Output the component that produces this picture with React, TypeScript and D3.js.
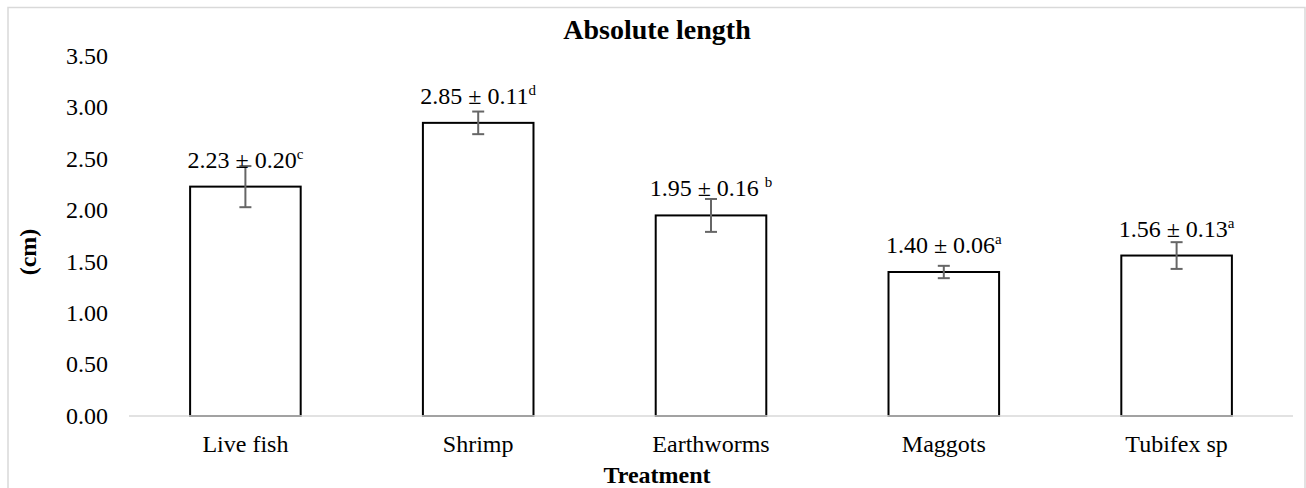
import React from "react";
import * as d3 from "d3";

const categories = ["Live fish", "Shrimp", "Earthworms", "Maggots", "Tubifex sp"];
const means = [2.23, 2.85, 1.95, 1.4, 1.56];
const errors = [0.2, 0.11, 0.16, 0.06, 0.13];
const letters = ["c", "d", "b", "a", "a"];
const letterSpaced = [false, false, true, false, false];
const yTicks = [0, 0.5, 1, 1.5, 2, 2.5, 3, 3.5];

const W = 1306;
const H = 488;
const FONT = "'Liberation Serif', 'Times New Roman', serif";

export default function App() {
  const x = d3
    .scaleBand<string>()
    .domain(categories)
    .range([129, 1293])
    .paddingInner(0.525)
    .paddingOuter(0.2625);
  const y = d3.scaleLinear().domain([0, 3.5]).range([416, 56]);
  const bw = x.bandwidth();

  return (
    <div style={{ position: "absolute", left: 0, top: 0, width: W, height: H, background: "#fff" }}>
      <svg width={W} height={H} style={{ display: "block" }} fontFamily={FONT}>
        <rect x={0} y={0} width={W} height={H} fill="#fff" />
        <rect x={8} y={7.5} width={1297} height={500} fill="none" stroke="#d9d9d9" strokeWidth={1.5} />
        <text x={657} y={39} textAnchor="middle" fontSize={28} fontWeight="bold" fill="#000">
          Absolute length
        </text>
        {yTicks.map((t) => (
          <text key={t} x={108} y={y(t)} dy="0.33em" textAnchor="end" fontSize={24} fill="#000">
            {d3.format(".2f")(t)}
          </text>
        ))}
        {categories.map((c, i) => {
          const x0 = x(c)!;
          const cx = x0 + bw / 2;
          return (
            <g key={c}>
              <rect
                x={x0}
                y={y(means[i])}
                width={bw}
                height={y(0) - y(means[i])}
                fill="#fff"
                stroke="#000"
                strokeWidth={2}
              />
              <g stroke="#666" strokeWidth={2}>
                <line x1={cx} x2={cx} y1={y(means[i] + errors[i])} y2={y(means[i] - errors[i])} />
                <line x1={cx - 6} x2={cx + 6} y1={y(means[i] + errors[i])} y2={y(means[i] + errors[i])} />
                <line x1={cx - 6} x2={cx + 6} y1={y(means[i] - errors[i])} y2={y(means[i] - errors[i])} />
              </g>
              <text x={cx} y={y(means[i]) - 19} textAnchor="middle" fontSize={24} fill="#000">
                {`${d3.format(".2f")(means[i])} ± ${d3.format(".2f")(errors[i])}${letterSpaced[i] ? " " : ""}`}
                <tspan fontSize={15} dy={-9}>
                  {letters[i]}
                </tspan>
              </text>
              <text x={cx} y={452} textAnchor="middle" fontSize={24} fill="#000">
                {c}
              </text>
            </g>
          );
        })}
        <line x1={129} x2={1293} y1={y(0)} y2={y(0)} stroke="#d9d9d9" strokeWidth={1.5} />
        <text x={657} y={483} textAnchor="middle" fontSize={24} fontWeight="bold" fill="#000">
          Treatment
        </text>
        <text
          transform={`translate(36,252) rotate(-90)`}
          textAnchor="middle"
          fontSize={24}
          fontWeight="bold"
          fill="#000"
        >
          (cm)
        </text>
      </svg>
    </div>
  );
}
